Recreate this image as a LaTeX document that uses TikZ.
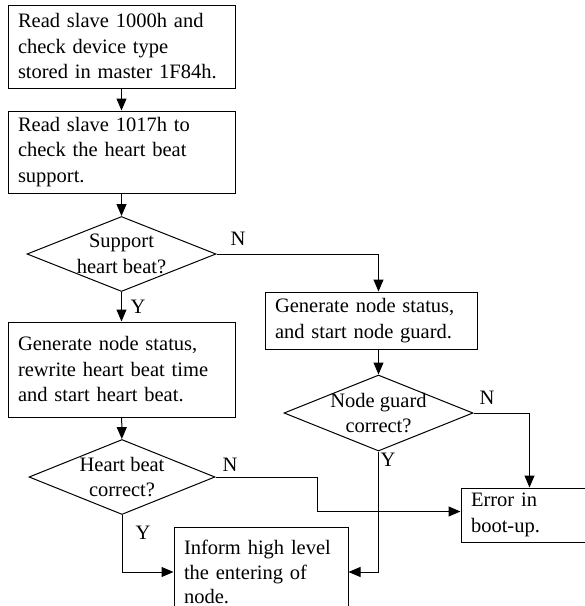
\documentclass[tikz,border=0pt]{standalone}
\usepackage{fontspec}
\setmainfont{Liberation Serif}
\usetikzlibrary{shapes.geometric,arrows.meta}
\tikzstyle{block} = [draw, rectangle, align=left, inner xsep=10pt, inner ysep=0pt, line width=1pt]
\tikzstyle{decision} = [draw, diamond, inner sep=0pt, line width=1pt]
\tikzstyle{dtext} = [align=center, inner sep=0pt]
\tikzstyle{lbl} = [inner sep=0pt]

\begin{document}
\begin{tikzpicture}[auto, x=1pt, y=-1pt, >={Triangle[length=12pt,width=10pt]}, font=\fontsize{20.5}{25.5}\selectfont]
		\useasboundingbox (0,0) rectangle (585,606);
		\node [block, text width=207pt, minimum height=83pt] (readtype) at (121.5,46.5) {Read slave 1000h and\\check device type\\stored in master 1F84h.};
		\node [block, text width=207pt, minimum height=82pt] (readhb) at (121.5,152) {Read slave 1017h to\\check the heart beat\\support.};
		\node [decision, minimum width=189pt, minimum height=75pt] (supphb) at (121.5,254) {};
		\node [dtext] at (supphb) {Support\\heart beat?};
		\node [block, text width=207pt, minimum height=95pt] (genhb) at (121.5,369.5) {Generate node status,\\rewrite heart beat time\\and start heart beat.};
		\node [decision, minimum width=186pt, minimum height=75pt] (hbok) at (122,477) {};
		\node [dtext] at (hbok) {Heart beat\\correct?};
		\node [block, text width=192pt, minimum height=57pt] (genguard) at (371,320.5) {Generate node status,\\and start node guard.};
		\node [decision, minimum width=189pt, minimum height=76pt] (guardok) at (378.5,413) {};
		\node [dtext] at (guardok) {Node guard\\correct?};
		\node [block, text width=117pt, minimum height=54pt] (error) at (529.5,515) {Error in\\boot-up.};
		\node [block, text width=154pt, minimum height=90pt, font=\fontsize{20.5}{24.5}\selectfont] (inform) at (261,572) {Inform high level\\the entering of\\node.};

		\node [lbl] (n1) at (238,239) {N};
		\node [lbl] (y1) at (138,307) {Y};
		\node [lbl] (n2) at (487,398) {N};
		\node [lbl] (y2) at (388,460) {Y};
		\node [lbl] (n3) at (230,465) {N};
		\node [lbl] (y3) at (143,533) {Y};

		\draw [->, line width=1pt] (readtype) -- (readhb);
		\draw [->, line width=1pt] (readhb) -- (supphb);
		\draw [->, line width=1pt] (supphb.south) -- (genhb);
		\draw [->, line width=1pt] (supphb.east) -| ([xshift=7.5pt]genguard.north);
		\draw [->, line width=1pt] ([xshift=7.5pt]genguard.south) -- (guardok.north);
		\draw [->, line width=1pt] (genhb) -- (hbok);
		\draw [->, line width=1pt] (guardok.east) -| (error.north);
		\draw [->, line width=1pt] (guardok.south) |- (inform.east);
		\draw [->, line width=1pt] (hbok.south) |- (inform.west);
		\draw [->, line width=1pt] (hbok.east) -- ++(102,0) |- ([yshift=3.5pt]error.west);
	\end{tikzpicture}
\end{document}
